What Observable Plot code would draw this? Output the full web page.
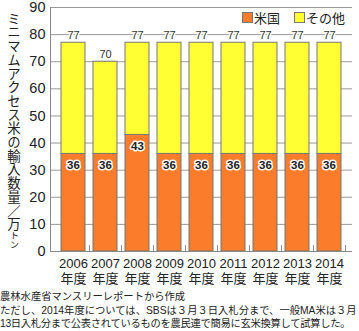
<!DOCTYPE html>
<html><head><meta charset="utf-8">
<script src="https://cdn.jsdelivr.net/npm/d3@7"></script>
<script src="https://cdn.jsdelivr.net/npm/@observablehq/plot@0.6"></script>
<style>
body{margin:0;background:#fff;font-family:"Liberation Sans","Noto Sans CJK JP",sans-serif;}
#wrap{position:relative;width:359px;height:331px;overflow:hidden;}
#ylab{position:absolute;left:6px;top:12px;writing-mode:vertical-rl;font-family:"Noto Sans CJK JP",sans-serif;font-size:13.4px;line-height:16px;color:#222;letter-spacing:0.3px;}
#ylab .s{font-size:9px;}
#legend{position:absolute;left:242px;top:8px;font-size:13px;color:#222;display:flex;align-items:center;font-family:"Noto Sans CJK JP",sans-serif;}
#legend .sw{display:inline-block;width:9px;height:9px;border:1px solid #777;margin-right:1px;}
#note{position:absolute;left:0;top:290px;font-size:10.3px;line-height:13.5px;color:#222;white-space:nowrap;}
#n3{letter-spacing:-0.3px;}
</style></head>
<body><div id="wrap"><div id="chart"></div>
<div id="ylab">ミニマムアクセス米の輸入数量／万<span class="s">トン</span></div>
<div id="legend"><span class="sw" style="background:#fb7d2b"></span>米国<span style="width:14px;display:inline-block"></span><span class="sw" style="background:#ffff33"></span>その他</div>
<div id="note"><span id="n1">農林水産省マンスリーレポートから作成</span><br><span id="n2">ただし、2014年度については、SBSは３月３日入札分まで、一般MA米は３月</span><br><span id="n3">13日入札分まで公表されているものを農民連で簡易に玄米換算して試算した。</span></div>
</div>
<script>
const years = ["2006","2007","2008","2009","2010","2011","2012","2013","2014"];
const usa = [36,36,43,36,36,36,36,36,36];
const other = [41,34,34,41,41,41,41,41,41];
const total = [77,70,77,77,77,77,77,77,77];
const series = ["米国","その他"];
const colors = ["#fb7d2b","#ffff33"];
const yTicks = [0,10,20,30,40,50,60,70,80,90];

const rows = [];
years.forEach((y,i)=>{ rows.push({year:y, s:"米国", v:usa[i]}); rows.push({year:y, s:"その他", v:other[i]}); });
const totals = years.map((y,i)=>({year:y, v:total[i]}));
const usRows = years.map((y,i)=>({year:y, v:usa[i]}));

function frameMark(index, scales, values, dims) {
  const g = d3.create("svg:g");
  const x0 = dims.marginLeft, x1 = dims.width - dims.marginRight;
  const yb = scales.y(0);
  const step = scales.x.step ? scales.x.step() : (x1-x0)/years.length;
  g.append("line").attr("x1",x0+0.5).attr("x2",x0+0.5).attr("y1",scales.y(90)).attr("y2",yb).attr("stroke","#888");
  g.append("line").attr("x1",x0).attr("x2",x1).attr("y1",yb+0.5).attr("y2",yb+0.5).attr("stroke","#888");
  years.forEach((y,i)=>{
    const xx = Math.round(scales.x(y) - (step - scales.x.bandwidth())/2 + step) + 0.5;
    g.append("line").attr("x1",xx).attr("x2",xx).attr("y1",yb).attr("y2",yb-6).attr("stroke","#888");
  });
  return g.node();
}

const chart = Plot.plot({
  width: 359, height: 290,
  marginTop: 7, marginBottom: 39, marginLeft: 50, marginRight: 7,
  style: {fontFamily: '"Liberation Sans","Noto Sans CJK JP",sans-serif', background:"#fff", color:"#222"},
  x: {domain: years, padding: 0.26, label: null},
  y: {domain: [0,90], label: null},
  color: {domain: series, range: colors},
  marks: [
    Plot.ruleY(yTicks.filter(d=>d>0), {stroke:"#999", strokeOpacity:1}),
    Plot.barY(rows, {x:"year", y:"v", fill:"s", order: series, stroke:"#777", strokeWidth:1, inset:0}),
    Plot.text(totals, {x:"year", y:"v", text: d=>String(d.v), dy:-7, fontSize:11, fill:"#333", stroke:"#fff", strokeWidth:3}),
    Plot.text(usRows, {x:"year", y:"v", text: d=>String(d.v), dy:11, fontSize:11.5, fontWeight:"bold", fill:"#222", stroke:"#fff", strokeWidth:3}),
    frameMark,
    Plot.axisY({ticks: yTicks, tickSize:0, tickPadding:5, fontSize:14.5, label:null}),
    Plot.axisX({tickSize:0, tickPadding:7, fontSize:13, lineHeight:1.08, tickFormat: d=>d+"\n年度", label:null})
  ]
});
document.getElementById("chart").appendChild(chart);
</script>
</body></html>
